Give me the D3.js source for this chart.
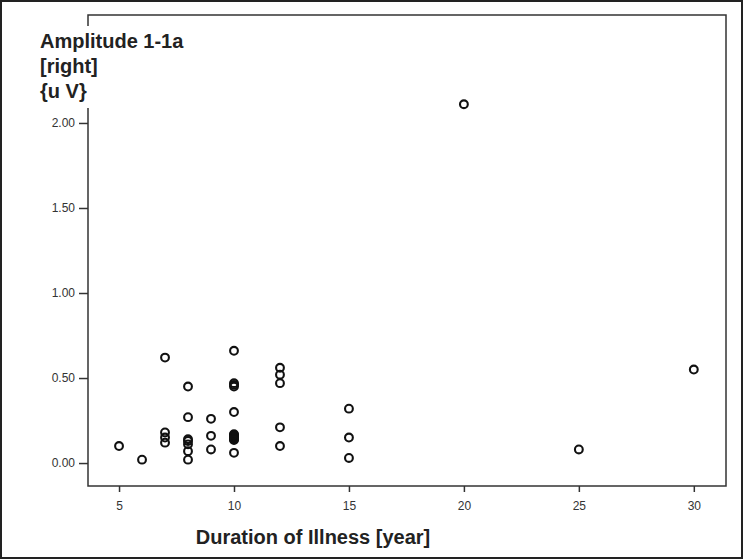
<!DOCTYPE html>
<html>
<head>
<meta charset="utf-8">
<script src="https://cdn.jsdelivr.net/npm/d3@7"></script>
<style>
    body { margin: 0; background: #fff; }
    svg { display: block; font-family: "Liberation Sans", Arial, sans-serif; }
</style>
</head>
<body>
<svg width="743" height="559"></svg>
<script>
// duration of illness (years) and amplitude (uV), one entry per patient
var duration = [5, 6, 7, 7, 7, 7, 8, 8, 8, 8, 8, 8, 8, 9, 9, 9,
    10, 10, 10, 10, 10, 10, 10, 10, 10, 10, 10, 10, 10, 10,
    12, 12, 12, 12, 12, 15, 15, 15, 20, 25, 30];
var amplitude = [0.10, 0.02, 0.62, 0.18, 0.15, 0.12, 0.45, 0.27, 0.14, 0.13, 0.11, 0.07, 0.02, 0.26, 0.16, 0.08,
    0.66, 0.47, 0.46, 0.45, 0.30, 0.17, 0.165, 0.16, 0.155, 0.15, 0.145, 0.14, 0.135, 0.06,
    0.56, 0.52, 0.47, 0.21, 0.10, 0.32, 0.15, 0.03, 2.11, 0.08, 0.55];
var xTicks = [5, 10, 15, 20, 25, 30];
var yTicks = [0, 0.5, 1, 1.5, 2];
var yTitle = ['Amplitude 1-1a', '[right]', '{u V}'];
var xTitle = 'Duration of Illness [year]';

var svg = d3.select('svg');
var boxLeft = 88, boxRight = 726, boxTop = 15, boxBottom = 486;

var xScale = d3.scaleLinear().domain([3.65, 31.4]).range([boxLeft, boxRight]);
var yScale = d3.scaleLinear().domain([-0.135, 2.635]).range([boxBottom, boxTop]);

// outer frame
svg.append('rect')
    .attr('x', 1).attr('y', 1).attr('width', 741).attr('height', 557)
    .attr('fill', 'none').attr('stroke', '#222').attr('stroke-width', 2);

// plot box
svg.append('rect')
    .attr('x', boxLeft).attr('y', boxTop).attr('width', boxRight - boxLeft).attr('height', boxBottom - boxTop)
    .attr('fill', 'none').attr('stroke', '#333').attr('stroke-width', 1.5);

var xAxis = svg.append('g')
    .attr('transform', 'translate(0,' + boxBottom + ')')
    .call(d3.axisBottom(xScale).tickValues(xTicks).tickSize(6).tickSizeOuter(0).tickPadding(9));
xAxis.select('.domain').remove();

var yAxis = svg.append('g')
    .attr('transform', 'translate(' + boxLeft + ',0)')
    .call(d3.axisLeft(yScale).tickValues(yTicks).tickFormat(d3.format('.2f')).tickSize(9).tickSizeOuter(0).tickPadding(4));
yAxis.select('.domain').remove();

svg.selectAll('.tick line').attr('stroke', '#333').attr('stroke-width', 1.5);
svg.selectAll('.tick text')
    .attr('fill', '#333')
    .style('font-size', '12px')
    .style('font-family', '"Liberation Sans", Arial, sans-serif');

// y title sits on a white patch that hides the axis line
var titleG = svg.append('g');
var titleBg = titleG.append('rect').attr('fill', '#fff');
var titleText = titleG.append('text')
    .attr('x', 40).attr('y', 48)
    .attr('fill', '#222')
    .style('font-size', '20px')
    .style('font-weight', 'bold');
titleText.selectAll('tspan')
    .data(yTitle)
    .enter().append('tspan')
    .attr('x', 40)
    .attr('dy', function(d, i) { return i === 0 ? 0 : 25; })
    .text(function(d) { return d; });
var bb = titleText.node().getBBox();
titleBg.attr('x', bb.x - 2).attr('y', bb.y - 4).attr('width', bb.width + 4).attr('height', bb.height + 10);

svg.append('text')
    .attr('x', 313).attr('y', 544)
    .attr('text-anchor', 'middle')
    .attr('fill', '#222')
    .style('font-size', '20px')
    .style('font-weight', 'bold')
    .text(xTitle);

svg.append('g')
    .selectAll('circle')
    .data(duration)
    .enter().append('circle')
    .attr('cx', function(d) { return xScale(d); })
    .attr('cy', function(d, i) { return yScale(amplitude[i]); })
    .attr('r', 3.9)
    .attr('fill', 'none')
    .attr('stroke', '#111')
    .attr('stroke-width', 2.1);
</script>
</body>
</html>
